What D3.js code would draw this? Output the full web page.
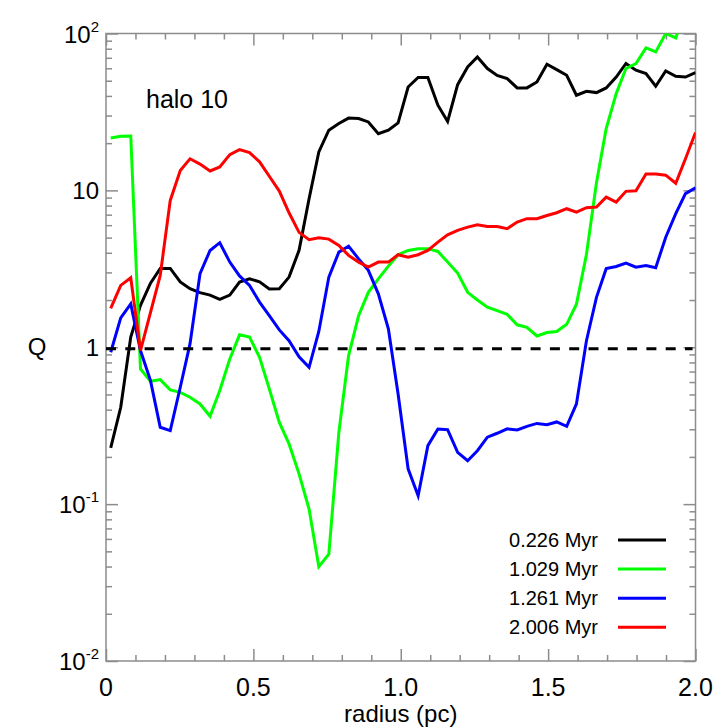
<!DOCTYPE html>
<html><head><meta charset="utf-8">
<script src="https://cdn.jsdelivr.net/npm/d3@7"></script>
<style>body{margin:0;background:#fff}svg{display:block}text{font-family:"Liberation Sans",Arial,Helvetica,sans-serif;fill:#000}</style>
</head><body><svg id="c" width="728" height="728"></svg>
<script>
// ---------------- data ----------------
const radius = [0.016,0.050,0.084,0.117,0.151,0.184,0.218,0.252,0.285,0.319,
  0.353,0.386,0.420,0.453,0.487,0.521,0.554,0.588,0.621,0.655,
  0.689,0.722,0.756,0.790,0.823,0.857,0.890,0.924,0.958,0.991,
  1.025,1.059,1.092,1.126,1.159,1.193,1.227,1.260,1.294,1.327,
  1.361,1.395,1.428,1.462,1.496,1.529,1.563,1.596,1.630,1.664,
  1.697,1.731,1.764,1.798,1.832,1.865,1.899,1.933,1.966,2.000];

const q_0226 = [0.228,0.414,1.16,1.85,2.56,3.18,3.18,2.61,2.36,2.23,
  2.15,2.02,2.15,2.60,2.73,2.61,2.35,2.36,2.80,4.15,
  8.85,17.6,24.2,26.7,28.9,28.7,27.3,23.0,24.2,26.9,
  45.6,52.4,52.4,34.9,27.5,47.2,61.2,70.9,59.8,54.0,
  51.6,45.0,45.0,49.1,63.7,58.9,54.2,40.4,42.8,42.0,
  45.0,52.8,64.4,58.3,55.6,46.1,57.7,53.4,52.8,56.4];

const q_1029 = [21.6,22.1,22.2,0.728,0.607,0.622,0.535,0.516,0.480,0.435,
  0.363,0.530,0.843,1.20,1.16,0.863,0.543,0.332,0.242,0.156,
  0.093,0.0399,0.048,0.287,0.885,1.59,2.24,2.73,3.29,3.89,
  4.14,4.25,4.25,4.08,3.49,2.97,2.24,2.00,1.80,1.71,
  1.62,1.39,1.34,1.18,1.24,1.26,1.40,1.88,3.9,11.2,
  24.8,41.4,59.8,64.4,80.9,76.3,100,93.7,140,160];

const q_1261 = [0.929,1.54,1.89,0.953,0.613,0.309,0.294,0.556,1.05,2.95,
  4.14,4.64,3.49,2.85,2.48,1.94,1.59,1.29,1.10,0.869,
  0.745,1.26,2.80,4.04,4.41,3.66,3.09,2.19,1.31,0.504,
  0.168,0.113,0.236,0.301,0.298,0.214,0.189,0.219,0.267,0.283,
  0.302,0.297,0.313,0.327,0.321,0.334,0.313,0.435,1.10,2.08,
  3.17,3.27,3.44,3.24,3.32,3.21,5.03,7.10,9.53,10.4];

const q_2006 = [1.77,2.48,2.77,0.95,1.67,2.87,8.63,13.4,15.9,14.7,
  13.3,14.1,16.9,18.2,17.4,15.2,12.3,9.9,7.2,5.4,
  4.85,4.99,4.89,4.46,3.85,3.49,3.24,3.49,3.49,3.89,
  3.75,3.89,4.14,4.68,5.21,5.56,5.83,6.04,5.89,5.89,
  5.70,6.28,6.60,6.60,6.92,7.20,7.64,7.27,7.76,7.83,
  9.06,8.42,9.86,9.95,12.7,12.7,12.5,11.1,15.9,23.4];

const seriesNames = ["0.226 Myr","1.029 Myr","1.261 Myr","2.006 Myr"];
const seriesValues = [q_0226, q_1029, q_1261, q_2006];
const seriesColors = ["#000000","#00ff00","#0000ff","#ff0000"];

const xTickValues = [0, 0.5, 1.0, 1.5, 2.0];
const xTickLabels = ["0", "0.5", "1.0", "1.5", "2.0"];
const yTickValues = [0.01, 0.1, 1, 10, 100];
const yTickBase = ["10", "10", "1", "10", "10"];
const yTickExp  = ["-2", "-1", "", "", "2"];
const thresholdQ = 1;
const titleText = "halo 10";
const xTitle = "radius (pc)";
const yTitle = "Q";

// ---------------- chart ----------------
const svg = d3.select("#c");
const X0 = 106, X1 = 695.5, Y0 = 661, Y1 = 33.5;
const x = d3.scaleLinear().domain([0, 2]).range([X0, X1]);
const y = d3.scaleLog().domain([0.01, 100]).range([Y0, Y1]);
const axisCol = "#8c8c8c";

// minor tick positions
const xMinor = d3.range(0, 21).map(i => i / 10).filter(v => !xTickValues.some(t => Math.abs(t - v) < 1e-9));
const yMinor = [];
[-2, -1, 0, 1].forEach(d => { for (let m = 2; m <= 9; m++) yMinor.push(m * Math.pow(10, d)); });

function styleAxis(g) {
  g.select(".domain").remove();
  g.selectAll("line").attr("stroke", axisCol).attr("stroke-width", 1.5);
  g.selectAll("text").remove();
}
svg.append("g").attr("transform", `translate(0,${Y0})`).call(d3.axisBottom(x).tickValues(xTickValues).tickSize(-12)).call(styleAxis);
svg.append("g").attr("transform", `translate(0,${Y0})`).call(d3.axisBottom(x).tickValues(xMinor).tickSize(-6)).call(styleAxis);
svg.append("g").attr("transform", `translate(0,${Y1})`).call(d3.axisTop(x).tickValues(xTickValues).tickSize(-12)).call(styleAxis);
svg.append("g").attr("transform", `translate(0,${Y1})`).call(d3.axisTop(x).tickValues(xMinor).tickSize(-6)).call(styleAxis);
svg.append("g").attr("transform", `translate(${X0},0)`).call(d3.axisLeft(y).tickValues(yTickValues).tickSize(-12)).call(styleAxis);
svg.append("g").attr("transform", `translate(${X0},0)`).call(d3.axisLeft(y).tickValues(yMinor).tickSize(-6)).call(styleAxis);
svg.append("g").attr("transform", `translate(${X1},0)`).call(d3.axisRight(y).tickValues(yTickValues).tickSize(-12)).call(styleAxis);
svg.append("g").attr("transform", `translate(${X1},0)`).call(d3.axisRight(y).tickValues(yMinor).tickSize(-6)).call(styleAxis);

svg.append("rect").attr("x", X0).attr("y", Y1).attr("width", X1 - X0).attr("height", Y0 - Y1)
  .attr("fill", "none").attr("stroke", axisCol).attr("stroke-width", 1.5);

// tick labels
svg.append("g").selectAll("text").data(xTickValues).join("text")
  .attr("x", d => x(d)).attr("y", 696).attr("text-anchor", "middle")
  .attr("font-size", 25).text((d, i) => xTickLabels[i]);

const yl = svg.append("g").selectAll("text").data(yTickValues).join("text")
  .attr("x", 99).attr("y", d => y(d) + 9).attr("text-anchor", "end").attr("font-size", 24);
yl.append("tspan").text((d, i) => yTickBase[i]);
yl.append("tspan").attr("font-size", 15).attr("dy", -11).text((d, i) => yTickExp[i]);

// titles
svg.append("text").attr("x", (X0 + X1) / 2).attr("y", 722).attr("text-anchor", "middle")
  .attr("font-size", 24).text(xTitle);
svg.append("text").attr("x", 37).attr("y", (Y0 + Y1) / 2 + 8)
  .attr("text-anchor", "middle").attr("font-size", 24).text(yTitle);
svg.append("text").attr("x", 146).attr("y", 108).attr("font-size", 25).text(titleText);

// clip
svg.append("clipPath").attr("id", "clip").append("rect")
  .attr("x", X0).attr("y", Y1).attr("width", X1 - X0).attr("height", Y0 - Y1);

const line = d3.line().x(d => x(d[0])).y(d => y(d[1]));
const plot = svg.append("g").attr("clip-path", "url(#clip)");
seriesValues.forEach((vals, k) => {
  plot.append("path").datum(radius.map((r, i) => [r, vals[i]]))
    .attr("d", line).attr("fill", "none").attr("stroke", seriesColors[k]).attr("stroke-width", 3);
});

// threshold dashed line
plot.append("line").attr("x1", x(0)).attr("x2", x(1.99)).attr("y1", y(thresholdQ) + 1.5).attr("y2", y(thresholdQ) + 1.5)
  .attr("stroke", "#000").attr("stroke-width", 3).attr("stroke-dasharray", "10,9.3");

// legend
const leg = svg.append("g").selectAll("g").data(seriesNames).join("g")
  .attr("transform", (d, i) => `translate(0,${540 + i * 29.1})`);
leg.append("text").attr("x", 598).attr("dy", "0.35em").attr("text-anchor", "end").attr("font-size", 20).text(d => d);
leg.append("line").attr("x1", 618).attr("x2", 666).attr("stroke", (d, i) => seriesColors[i]).attr("stroke-width", 3);
</script></body></html>
